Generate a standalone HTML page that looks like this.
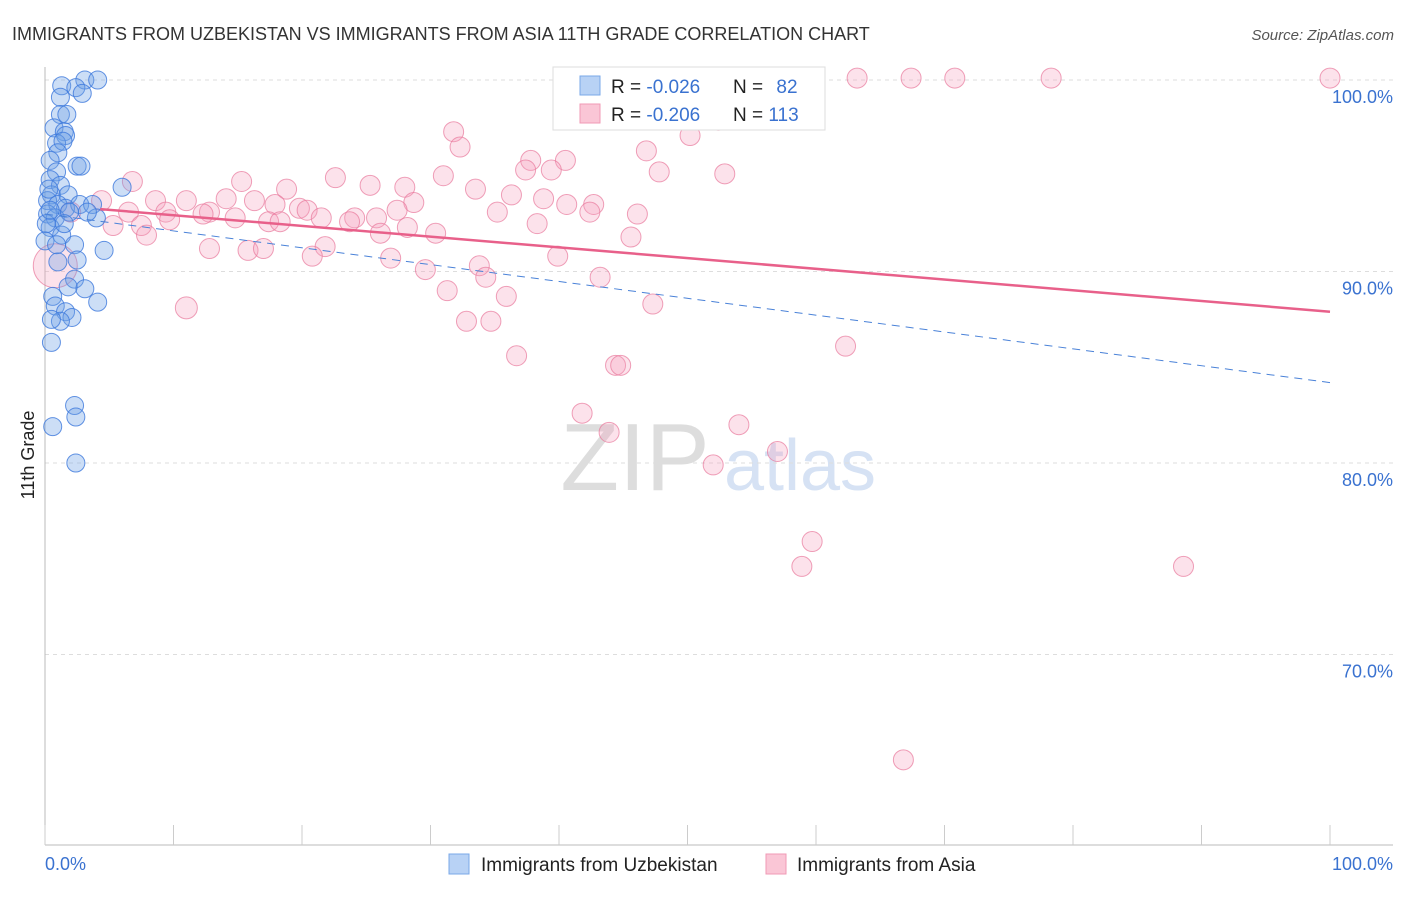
<!DOCTYPE html>
<html><head><meta charset="utf-8">
<style>
body{margin:0;background:#fff;font-family:"Liberation Sans",sans-serif;}
svg text{font-family:"Liberation Sans",sans-serif;}
</style></head>
<body>
<svg id="chart" width="1406" height="892" xmlns="http://www.w3.org/2000/svg">
<text x="12" y="40" font-size="18" fill="#333">IMMIGRANTS FROM UZBEKISTAN VS IMMIGRANTS FROM ASIA 11TH GRADE CORRELATION CHART</text>
<text x="1394" y="40" font-size="15" fill="#555" font-style="italic" text-anchor="end">Source: ZipAtlas.com</text>
<text x="34" y="455" font-size="18" fill="#222" text-anchor="middle" transform="rotate(-90 34 455)">11th Grade</text>
<g>
<text x="635" y="490" font-size="96" fill="#ddd" font-family="Liberation Serif" text-anchor="middle">ZIP</text>
<text x="800" y="490" font-size="72" fill="#d6e2f4" text-anchor="middle">atlas</text>
</g>
<g id="grid"></g><g id="axes"></g><g id="pts"></g><g id="trends"></g>
<g>
<rect x="553" y="67" width="272" height="63" fill="#fff" stroke="#ddd"/>
<rect x="580" y="76" width="20" height="19" fill="#b8d2f5" stroke="#7aa8e8"/>
<rect x="580" y="104" width="20" height="19" fill="#fac6d6" stroke="#f09ab5"/>
<text x="611" y="93" font-size="19" fill="#222">R = <tspan fill="#3a72d0">-0.026</tspan></text>
<text x="733" y="93" font-size="19" fill="#222">N = <tspan fill="#3a72d0" dx="8">82</tspan></text>
<text x="611" y="121" font-size="19" fill="#222">R = <tspan fill="#3a72d0">-0.206</tspan></text>
<text x="733" y="121" font-size="19" fill="#222">N = <tspan fill="#3a72d0">113</tspan></text>
</g>
<g>
<rect x="449" y="854" width="20" height="20" fill="#b8d2f5" stroke="#7aa8e8"/>
<text x="481" y="871" font-size="19" fill="#222">Immigrants from Uzbekistan</text>
<rect x="766" y="854" width="20" height="20" fill="#fac6d6" stroke="#f09ab5"/>
<text x="797" y="871" font-size="19" fill="#222">Immigrants from Asia</text>
</g>
</svg>
<script>
const yTicks=[100,90,80,70];
const yTickLabels=["100.0%","90.0%","80.0%","70.0%"];
const xTickLabels=["0.0%","100.0%"];
const blueX=[1.3,3.1,4.1,1.2,2.4,2.9,1.2,1.7,0.7,1.5,1.6,0.9,1.4,1,0.4,2.5,2.8,0.9,0.4,1.2,6,0.5,1.8,0.2,1,1.6,2.7,3.7,0.2,0.8,4,0.4,1.3,2.3,4.6,1,2.5,2.3,3.1,1.8,0.6,4.1,0.8,1.6,2.1,1.2,0.5,0.5,2.3,2.4,0.6,2.4,0.1,0.4,1.9,3.3,0,0.9,0.3,1.5];
const blueY=[99.7,100,100,99.1,99.6,99.3,98.2,98.2,97.5,97.3,97.1,96.7,96.8,96.2,95.8,95.5,95.5,95.2,94.8,94.5,94.4,94,94,93.7,93.5,93.3,93.5,93.5,93,92.8,92.8,92.3,91.9,91.4,91.1,90.5,90.6,89.6,89.1,89.2,88.7,88.4,88.2,87.9,87.6,87.4,87.5,86.3,83,82.4,81.9,80,92.5,93.2,93.1,93.1,91.6,91.4,94.3,92.5];
const pinkPx=[757,857,911,955,1051,1330,718,453,690,460,647,565,531,526,551,659,725,443,336,242,370,132,405,287,475,512,543,101,155,186,226,255,414,567,594,275,300,307,209,397,497,166,128,638,590,71,170,203,235,321,355,377,350,269,113,142,280,537,408,381,435,631,146,325,210,248,263,312,558,391,426,479,600,486,447,506,653,186,466,491,845,516,616,621,582,609,739,713,777,812,802,1184,903,55];
const pinkPy=[79,79,79,79,79,79,120,131,135,147,150,160,160,170,170,172,173,175,177,182,185,182,188,190,190,195,198,200,200,200,198,200,202,204,205,205,208,210,212,210,212,213,212,215,213,212,220,215,218,218,217,217,222,222,225,225,222,223,228,233,234,237,235,246,248,250,248,256,256,259,270,265,277,278,290,296,305,308,321,321,347,356,366,366,414,432,424,464,452,542,567,567,759,265];
// convert pixel-read estimates into data values (percent)
const pinkX=pinkPx.map(p=>+((p-45)/12.85).toFixed(1));
const pinkY=pinkPy.map(p=>+(100-(p-80)/19.15).toFixed(1));
const blueTrend=[93.0,84.2];
const pinkTrend=[93.5,87.9];

const X0=45,X1=1330,YTOP=80;
const sx=v=>X0+(X1-X0)*v/100;
const sy=v=>YTOP+(100-v)*19.15;
const NS="http://www.w3.org/2000/svg";
function mk(tag,attrs,parent){const e=document.createElementNS(NS,tag);for(const k in attrs)e.setAttribute(k,attrs[k]);parent.appendChild(e);return e;}
const grid=document.getElementById('grid'),axes=document.getElementById('axes'),pts=document.getElementById('pts'),tr=document.getElementById('trends');
yTicks.forEach((t,i)=>{
 const l=mk('line',{x1:X0,x2:1393,y1:sy(t),y2:sy(t),stroke:'#ddd','stroke-dasharray':'4,4'},grid);
 
 
 const tx=mk('text',{x:1393,y:sy(t)+23,'font-size':18,fill:'#3a72d0','text-anchor':'end'},axes);
 tx.textContent=yTickLabels[i];
 
 
});
const yax=mk('line',{x1:X0,x2:X0,y1:67,y2:845,stroke:'#bbb'},axes);


const xax=mk('line',{x1:X0,x2:1393,y1:845,y2:845,stroke:'#bbb'},axes);


for(let i=0;i<=10;i++){
 const t=mk('line',{x1:sx(i*10),x2:sx(i*10),y1:825,y2:845,stroke:'#ccc'},axes);
 
 
}
[[0,'start'],[100,'end']].forEach((a,i)=>{
 const t=mk('text',{x:i?1393:45,y:870,'font-size':18,fill:'#3a72d0','text-anchor':a[1]},axes);
 t.textContent=xTickLabels[i];
 
 
});
pinkX.forEach((x,i)=>{
 const r=i===pinkX.length-1?22:(i===77?11:10);
 const c=mk('circle',{cx:sx(x),cy:sy(pinkY[i]),r:r,fill:'rgba(244,160,188,0.3)',stroke:'rgba(232,120,155,0.7)','stroke-width':1},pts);
 
 
});
blueX.forEach((x,i)=>{
 const c=mk('circle',{cx:sx(x),cy:sy(blueY[i]),r:9,fill:'rgba(110,160,230,0.35)',stroke:'rgba(60,120,220,0.8)','stroke-width':1},pts);
 
 
});
const bt=mk('line',{x1:sx(0),y1:sy(blueTrend[0]),x2:sx(100),y2:sy(blueTrend[1]),stroke:'#4a82d8','stroke-width':1,'stroke-dasharray':'8,6'},tr);


const pt=mk('line',{x1:sx(4.3),y1:sy(pinkTrend[0]+(pinkTrend[1]-pinkTrend[0])*0.043),x2:sx(100),y2:sy(pinkTrend[1]),stroke:'#e8608a','stroke-width':2.5},tr);


</script>
</body></html>
